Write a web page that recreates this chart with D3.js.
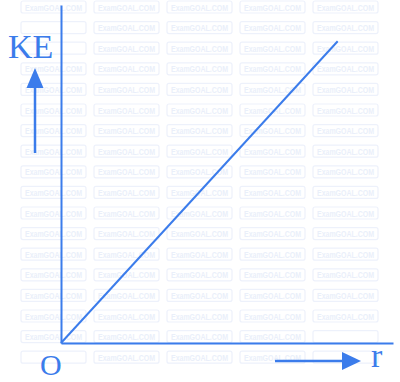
<!DOCTYPE html>
<html>
<head>
<meta charset="utf-8">
<script src="https://cdn.jsdelivr.net/npm/d3@7"></script>
<style>
  html, body { margin: 0; padding: 0; background: #fff; }
  svg { display: block; }
</style>
</head>
<body>
<svg id="chart"></svg>
<script>
// data: KE grows linearly with r (straight line through origin)
const rValues = [0, 1];
const keValues = [0, 1];
const xLabel = 'r';
const yLabel = 'KE';
const originLabel = 'O';
const watermark = 'ExamGOAL.COM';

const W = 400, H = 382;
const BLUE = '#3b7ceb';

const svg = d3.select('#chart').attr('width', W).attr('height', H);

// label boxes, watermark cells under them are left out
const labelBoxes = [[8, 26, 54, 60], [38, 348, 64, 377], [369, 333, 384, 369]];
const hitsLabel = (x, y) => labelBoxes.some(b => x < b[2] && x + 65 > b[0] && y < b[3] && y + 12 > b[1]);

// watermark grid (faint), only whole cells
const wm = svg.append('g');
for (let row = 0; row < 18; row++) {
  for (let col = 0; col < 5; col++) {
    const x = 21 + col * 73, y = 1 + row * 20.6;
    wm.append('rect')
      .attr('x', x).attr('y', y).attr('width', 65).attr('height', 12).attr('rx', 2)
      .attr('fill', 'none').attr('stroke', '#edf1fb').attr('stroke-width', 1.2);
    if (hitsLabel(x, y)) continue;
    wm.append('text')
      .attr('x', x + 4).attr('y', y + 9.5)
      .attr('textLength', 57).attr('lengthAdjust', 'spacingAndGlyphs')
      .attr('fill', '#eaeffa')
      .attr('font-family', 'Liberation Sans, Arial, sans-serif')
      .attr('font-weight', 700).attr('font-size', 8.5)
      .text(watermark);
  }
}

// scales
const x = d3.scaleLinear().domain([0, 1.2]).range([61, 393]);
const y = d3.scaleLinear().domain([0, 1.12]).range([343, 5]);

// axes (no ticks)
svg.append('g').attr('transform', `translate(0,${y(0)})`)
  .call(d3.axisBottom(x).tickValues([]).tickSizeOuter(0))
  .select('.domain').attr('stroke', BLUE).attr('stroke-width', 2);
svg.append('g').attr('transform', `translate(${x(0)},0)`)
  .call(d3.axisLeft(y).tickValues([]).tickSizeOuter(0))
  .select('.domain').attr('stroke', BLUE).attr('stroke-width', 2);

// the line
const pts = rValues.map((r, i) => [r, keValues[i]]);
svg.append('path')
  .datum(pts)
  .attr('d', d3.line().x(d => x(d[0])).y(d => y(d[1])))
  .attr('fill', 'none')
  .attr('stroke', BLUE)
  .attr('stroke-width', 2);

// arrows
svg.append('line').attr('x1', 35).attr('y1', 153).attr('x2', 35).attr('y2', 84)
  .attr('stroke', BLUE).attr('stroke-width', 2.5);
svg.append('path').attr('d', 'M35,68 L26.5,88 L43.5,88 Z').attr('fill', BLUE);

svg.append('line').attr('x1', 275).attr('y1', 361).attr('x2', 346).attr('y2', 361)
  .attr('stroke', BLUE).attr('stroke-width', 2.5);
svg.append('path').attr('d', 'M361,361 L342,352 L342,370 Z').attr('fill', BLUE);

// labels
const serif = 'Liberation Serif, Times New Roman, serif';
svg.append('text').attr('x', 8).attr('y', 58)
  .attr('fill', BLUE).attr('font-family', serif).attr('font-size', 34)
  .text(yLabel);
svg.append('text').attr('x', 40).attr('y', 375)
  .attr('fill', BLUE).attr('font-family', serif).attr('font-size', 30)
  .text(originLabel);
svg.append('text').attr('x', 371).attr('y', 367)
  .attr('fill', BLUE).attr('font-family', serif).attr('font-size', 34)
  .text(xLabel);
</script>
</body>
</html>
